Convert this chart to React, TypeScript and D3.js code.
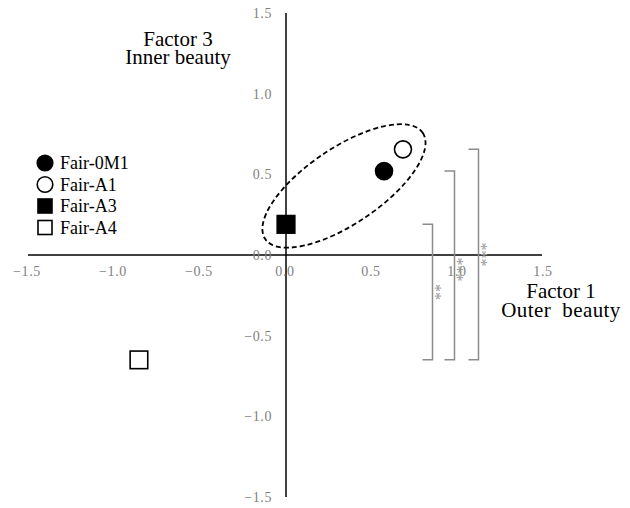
import React from 'react'
import * as d3 from 'd3'

// factor scores, Factor 1 (x) vs Factor 3 (y)
const groups = ['Fair-0M1', 'Fair-A1', 'Fair-A3', 'Fair-A4']
const factor1 = [0.57, 0.68, 0.0, -0.855]
const factor3 = [0.52, 0.655, 0.19, -0.65]
const symbols = ['circle-filled', 'circle-open', 'square-filled', 'square-open']

const ticks = [-1.5, -1.0, -0.5, 0.0, 0.5, 1.0, 1.5]

// significance brackets: from group -> to group
const bracketFrom = ['Fair-A3', 'Fair-0M1', 'Fair-A1']
const bracketTo = ['Fair-A4', 'Fair-A4', 'Fair-A4']
const bracketSig = ['**', '***', '***']

const W = 630
const H = 508
const serif = '"Liberation Serif", "Times New Roman", serif'

function Marker({ kind, cx, cy, r }: { kind: string; cx: number; cy: number; r: number }) {
  const filled = kind.endsWith('filled')
  if (kind.startsWith('circle')) {
    return <circle cx={cx} cy={cy} r={r} fill={filled ? '#000' : '#fff'} stroke="#000" strokeWidth={1.6} />
  }
  return <rect x={cx - r} y={cy - r} width={r * 2} height={r * 2} fill={filled ? '#000' : '#fff'} stroke="#000" strokeWidth={1.6} />
}

export default function App() {
  const x = d3.scaleLinear().domain([-1.5, 1.5]).range([28, 544])
  const y = d3.scaleLinear().domain([-1.5, 1.5]).range([497, 13])
  const x0 = x(0)
  const y0 = y(0)

  // dashed ellipse around the first three groups
  const ellipse = { cx: x(0.337), cy: y(0.428), rx: 95, ry: 38, angle: -34 }

  const bracketX = [432.5, 454.5, 478.5]
  const starShift = [0, 4, 0]
  const starSize = 16

  return (
    <svg width={W} height={H} style={{ display: 'block', position: 'absolute', left: 0, top: 0 }}>
      <rect width={W} height={H} fill="#fff" />

      {/* axes */}
      <line x1={x(-1.5)} x2={x(1.5) - 2} y1={y0} y2={y0} stroke="#000" strokeWidth={1.5} />
      <line x1={x0} x2={x0} y1={y(1.5)} y2={y(-1.5)} stroke="#000" strokeWidth={1.5} />

      {ticks.map((t) => (
        <text key={'x' + t} x={x(t) - 1} y={y0 + 21} textAnchor="middle" fontFamily={serif} fontSize={14} letterSpacing={0.6} fill="#7f7f7f">
          {d3.format('.1f')(t).replace('-', '\u2212')}
        </text>
      ))}
      {ticks.map((t) => (
        <text key={'y' + t} x={x0 - 14} y={y(t) + 5} textAnchor="end" fontFamily={serif} fontSize={14} letterSpacing={0.6} fill="#7f7f7f">
          {d3.format('.1f')(t).replace('-', '\u2212')}
        </text>
      ))}

      {/* axis titles */}
      <text textAnchor="middle" fontFamily={serif} fontSize={21} fill="#000">
        <tspan x={178} y={45.5}>Factor 3</tspan>
        <tspan x={178} y={64}>Inner beauty</tspan>
      </text>
      <text textAnchor="middle" fontFamily={serif} fontSize={21} fill="#000" style={{ whiteSpace: 'pre' }}>
        <tspan x={561} y={297.5}>Factor 1</tspan>
        <tspan x={561} y={316.5} letterSpacing={0.4}>{'Outer  beauty'}</tspan>
      </text>

      {/* ellipse */}
      <ellipse
        cx={ellipse.cx}
        cy={ellipse.cy}
        rx={ellipse.rx}
        ry={ellipse.ry}
        transform={`rotate(${ellipse.angle} ${ellipse.cx} ${ellipse.cy})`}
        fill="none"
        stroke="#000"
        strokeWidth={1.8}
        strokeDasharray="5 3"
      />

      {/* brackets */}
      {bracketFrom.map((g, i) => {
        const top = y(factor3[groups.indexOf(g)])
        const bot = y(factor3[groups.indexOf(bracketTo[i])])
        const bx = bracketX[i]
        const mid = (top + bot) / 2 + starShift[i]
        return (
          <g key={g}>
            <path d={`M${bx - 10},${top}H${bx}V${bot}H${bx - 10}`} fill="none" stroke="#8c8c8c" strokeWidth={1.5} />
            <text
              transform={`translate(${bx + 6}, ${mid}) rotate(90)`}
              y={starSize * 0.53}
              textAnchor="middle"
              fontFamily={serif}
              fontSize={starSize}
              fill="#999"
            >
              {bracketSig[i]}
            </text>
          </g>
        )
      })}

      {/* points */}
      {groups.map((g, i) => (
        <Marker key={g} kind={symbols[i]} cx={x(factor1[i])} cy={y(factor3[i])} r={i < 2 ? 8.5 : 8.8} />
      ))}

      {/* legend */}
      {groups.map((g, i) => (
        <g key={'lg' + g} transform={`translate(45, ${163 + i * 21.5})`}>
          <Marker kind={symbols[i]} cx={0} cy={0} r={i < 2 ? 7.8 : 7} />
          <text x={15} y={6} fontFamily={serif} fontSize={18} fill="#000">{g}</text>
        </g>
      ))}
    </svg>
  )
}
